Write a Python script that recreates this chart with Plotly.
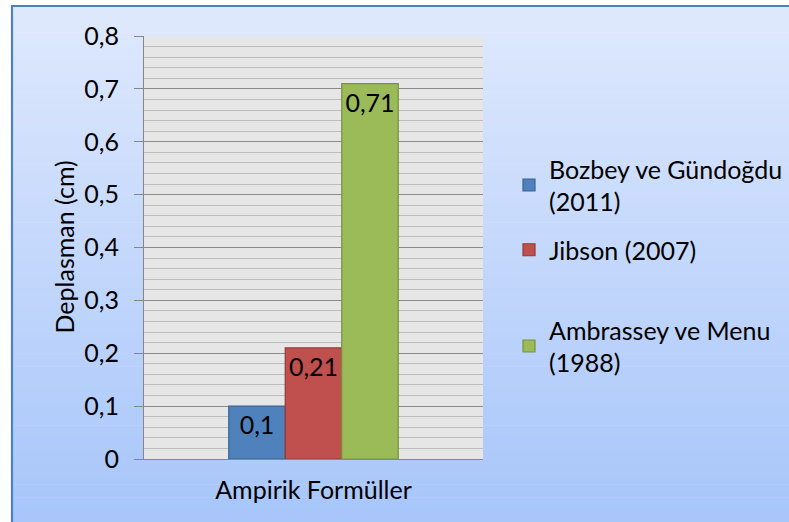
import plotly.graph_objects as go

# --- data -------------------------------------------------------------
category = ["Ampirik Formüller"]
series_names = [
    "Bozbey ve Gündoğdu<br>(2011)",
    "Jibson (2007)",
    "Ambrassey ve Menu<br>(1988)",
]
series_values = [0.10, 0.21, 0.71]
fill_colors = ["#4f81bd", "#c0504d", "#9bbb59"]
edge_colors = ["#3a6494", "#913b38", "#76923f"]
y_title = "Deplasman (cm)"

# --- geometry helpers -------------------------------------------------
W, H = 789, 522
ML, MR, MT, MB = 144, 306, 36, 63
PW, PH = W - ML - MR, H - MT - MB
FONT = "Lato"
TXT = 25


def px_x(x):
    return (x - ML) / PW


def px_y(y):
    return (H - MB - y) / PH


def lerp(a, b, t):
    return tuple(round(a[i] + (b[i] - a[i]) * t) for i in range(3))


fig = go.Figure()

legend_pos = [(509, 146), (509, 227), (509, 307)]
for i, (name, val) in enumerate(zip(series_names, series_values)):
    lg = "legend" if i == 0 else f"legend{i + 1}"
    fig.add_trace(
        go.Bar(
            x=category,
            y=[val],
            name=name,
            marker=dict(color=fill_colors[i], line=dict(color=edge_colors[i], width=1.2)),
            text=[f"{val:g}".replace(".", ",")],
            textposition="inside",
            insidetextanchor="end",
            textangle=0,
            constraintext="none",
            textfont=dict(family=FONT, size=TXT, color="black"),
            legend=lg,
            hoverinfo="skip",
        )
    )

# chart-area gradient and frame
shapes = []
top_c, bot_c = (223, 233, 253), (166, 197, 250)
y_top, y_bot = 6, 530
n = 80
for k in range(n):
    y0 = y_top + (y_bot - y_top) * k / n
    y1 = y_top + (y_bot - y_top) * (k + 1) / n + 0.6
    c = lerp(top_c, bot_c, (k + 0.5) / n)
    shapes.append(dict(
        type="rect", xref="paper", yref="paper", layer="below",
        x0=px_x(12), x1=px_x(800), y0=px_y(y1), y1=px_y(y0),
        fillcolor=f"rgb{c}", line=dict(width=0),
    ))
shapes.append(dict(
    type="rect", xref="paper", yref="paper", layer="below",
    x0=0, x1=1, y0=0, y1=1, fillcolor="#e6e6e6", line=dict(width=0),
))
shapes.append(dict(
    type="rect", xref="paper", yref="paper", layer="above",
    x0=px_x(12), x1=px_x(800), y0=px_y(530), y1=px_y(6),
    fillcolor="rgba(0,0,0,0)", line=dict(color="#4f81bd", width=2.2),
))

legend_common = dict(
    xref="container", yref="container", xanchor="left", yanchor="top",
    bgcolor="rgba(0,0,0,0)", borderwidth=0,
    font=dict(family=FONT, size=TXT, color="black"),
)
legends = {}
for i, (lx, ly) in enumerate(legend_pos):
    key = "legend" if i == 0 else f"legend{i + 1}"
    legends[key] = dict(x=lx / W, y=1 - ly / H, **legend_common)

fig.update_layout(
    width=W, height=H,
    margin=dict(l=ML, r=MR, t=MT, b=MB, pad=0),
    paper_bgcolor="white",
    plot_bgcolor="rgba(0,0,0,0)",
    separators=", ",
    barmode="group",
    bargap=0.5,
    bargroupgap=0,
    showlegend=True,
    shapes=shapes,
    font=dict(family=FONT, size=TXT, color="black"),
    xaxis=dict(
        range=[-0.5, 0.5],
        showline=True, linecolor="#868686", linewidth=1,
        ticks="", showgrid=False, zeroline=False,
        tickfont=dict(family=FONT, size=TXT, color="black"),
        ticklabelstandoff=9,
    ),
    yaxis=dict(
        range=[0, 0.8], dtick=0.1,
        showline=True, linecolor="#868686", linewidth=1,
        ticks="outside", ticklen=9, tickcolor="#868686", tickwidth=1,
        showgrid=True, gridcolor="#8a8a8a", gridwidth=1,
        minor=dict(dtick=0.02, showgrid=True, gridcolor="#bcbcbc", gridwidth=1.4),
        zeroline=False,
        tickfont=dict(family=FONT, size=TXT, color="black"),
        ticklabelstandoff=10,
    ),
    annotations=[dict(
        text=y_title, xref="paper", yref="paper",
        x=px_x(63), y=0.5, xanchor="center", yanchor="middle",
        textangle=-90, showarrow=False,
        font=dict(family=FONT, size=TXT, color="black"),
    )],
    **legends,
)

fig.write_html("out.html")
